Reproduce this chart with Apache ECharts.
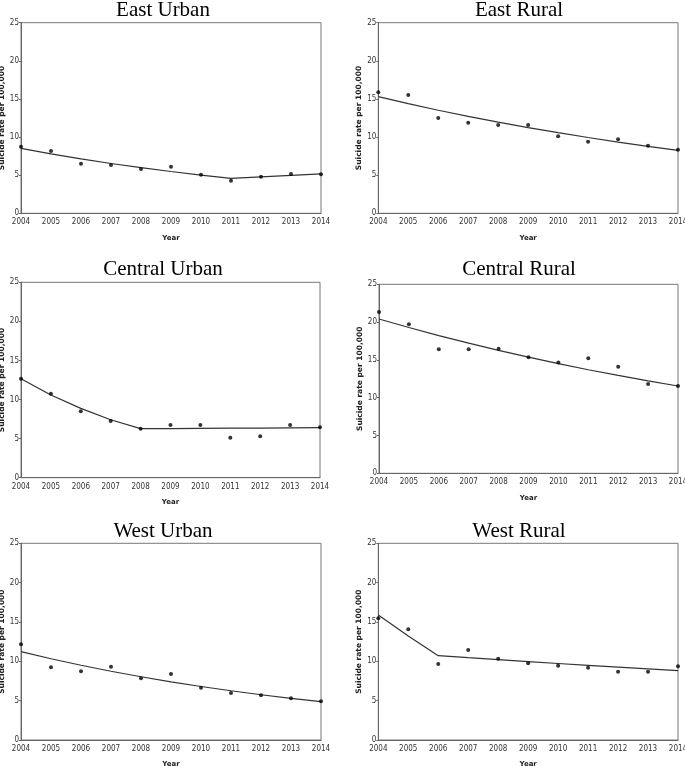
<!DOCTYPE html>
<html><head><meta charset="utf-8">
<script src="https://cdn.jsdelivr.net/npm/echarts@6/dist/echarts.min.js"></script>
<style>html,body{margin:0;padding:0;background:#fff}#c{width:685px;height:766px}</style>
</head><body><div id="c"></div>
<script>
var years = [2004,2005,2006,2007,2008,2009,2010,2011,2012,2013,2014];
var yTicks = [0,5,10,15,20,25];
var titles = ['East Urban','East Rural','Central Urban','Central Rural','West Urban','West Rural'];

var eastUrbanObs = [8.74,8.17,6.51,6.34,5.81,6.12,5.07,4.28,4.81,5.16,5.11];
var eastUrbanFit = [8.52,7.80,7.14,6.53,5.98,5.48,5.01,4.59,4.78,4.97,5.16];
var eastRuralObs = [15.87,15.52,12.50,11.89,11.58,11.58,10.10,9.40,9.70,8.87,8.35];
var eastRuralFit = [15.30,14.38,13.52,12.72,11.96,11.24,10.57,9.94,9.34,8.78,8.26];
var centralUrbanObs = [12.67,10.75,8.49,7.25,6.27,6.74,6.74,5.12,5.29,6.74,6.44];
var centralUrbanFit = [12.67,10.58,8.87,7.42,6.27,6.29,6.31,6.33,6.35,6.37,6.40];
var centralRuralObs = [21.34,19.71,16.40,16.40,16.49,15.34,14.64,15.21,14.11,11.82,11.55];
var centralRuralFit = [20.41,19.28,18.21,17.21,16.26,15.36,14.51,13.70,12.95,12.23,11.55];
var westUrbanObs = [12.16,9.24,8.73,9.32,7.84,8.39,6.65,5.97,5.68,5.30,4.92];
var westUrbanFit = [11.23,10.33,9.50,8.74,8.04,7.39,6.80,6.26,5.75,5.29,4.87];
var westRuralObs = [15.47,14.07,9.66,11.44,10.34,9.75,9.45,9.19,8.69,8.69,9.36];
var westRuralFit = [15.89,13.22,10.72,10.46,10.21,9.96,9.72,9.48,9.25,9.03,8.81];

var obsList = [eastUrbanObs,eastRuralObs,centralUrbanObs,centralRuralObs,westUrbanObs,westRuralObs];
var fitList = [eastUrbanFit,eastRuralFit,centralUrbanFit,centralRuralFit,westUrbanFit,westRuralFit];

var gridBoxes = [
  {left:21, top:22.7, width:300, height:190.6},
  {left:378.3, top:22.7, width:299.7, height:190.6},
  {left:21, top:282.3, width:299, height:195.4},
  {left:379, top:284.3, width:299, height:189},
  {left:21, top:543.3, width:300, height:196.7},
  {left:378.3, top:543.3, width:299.7, height:196.7}
];
var titleCenters = [[163,0],[519,0],[163,259],[519,259],[163,521],[519,521]];

var tickFont = "'Liberation Sans Narrow','DejaVu Sans Condensed','Liberation Sans',sans-serif";

function pairs(arr){ return years.map(function(y,i){ return [y, arr[i]]; }); }

var option = {
  backgroundColor:'#fff',
  animation:false,
  title: titles.map(function(t,i){
    return {text:t, left:titleCenters[i][0], top:titleCenters[i][1], textAlign:'center',
      textStyle:{fontFamily:'Liberation Serif', fontSize:21, fontWeight:'normal', color:'#000'}, padding:0};
  }),
  grid: gridBoxes.map(function(g){
    return {left:g.left, top:g.top, width:g.width, height:g.height, show:true, borderColor:'#777', borderWidth:1,
      containLabel:false, outerBoundsMode:'none'};
  }),
  xAxis: gridBoxes.map(function(g,i){
    return {type:'value', gridIndex:i, min:2004, max:2014, interval:1,
      name:'Year', nameLocation:'middle', nameGap:21,
      nameTextStyle:{fontFamily:'DejaVu Sans', fontWeight:'bold', fontSize:7, color:'#222'},
      axisLine:{show:true, lineStyle:{color:'#666', width:1}},
      axisTick:{show:false},
      splitLine:{show:false},
      axisLabel:{fontFamily:tickFont, fontSize:8, color:'#333', margin:5, hideOverlap:false,
        formatter:function(v){ return String(v); }}
    };
  }),
  yAxis: gridBoxes.map(function(g,i){
    return {type:'value', gridIndex:i, min:0, max:25, interval:5,
      name:'Suicide rate per 100,000', nameLocation:'middle', nameGap:12, nameRotate:90,
      nameTextStyle:{fontFamily:'DejaVu Sans', fontWeight:'bold', fontSize:7.5, color:'#222'},
      axisLine:{show:true, lineStyle:{color:'#666', width:1}},
      axisTick:{show:true, length:2, lineStyle:{color:'#666'}},
      splitLine:{show:false},
      axisLabel:{fontFamily:tickFont, fontSize:8, color:'#333', margin:2}
    };
  }),
  series: []
};
for (var i=0;i<6;i++){
  option.series.push({type:'line', xAxisIndex:i, yAxisIndex:i, data:pairs(fitList[i]),
    showSymbol:false, symbol:'none', lineStyle:{color:'#333', width:1.2}, z:2});
  option.series.push({type:'scatter', xAxisIndex:i, yAxisIndex:i, data:pairs(obsList[i]),
    symbol:'circle', symbolSize:4, itemStyle:{color:'#000'}, z:3});
}
var chart = echarts.init(document.getElementById('c'), null, {renderer:'canvas'});
chart.setOption(option);
</script></body></html>
